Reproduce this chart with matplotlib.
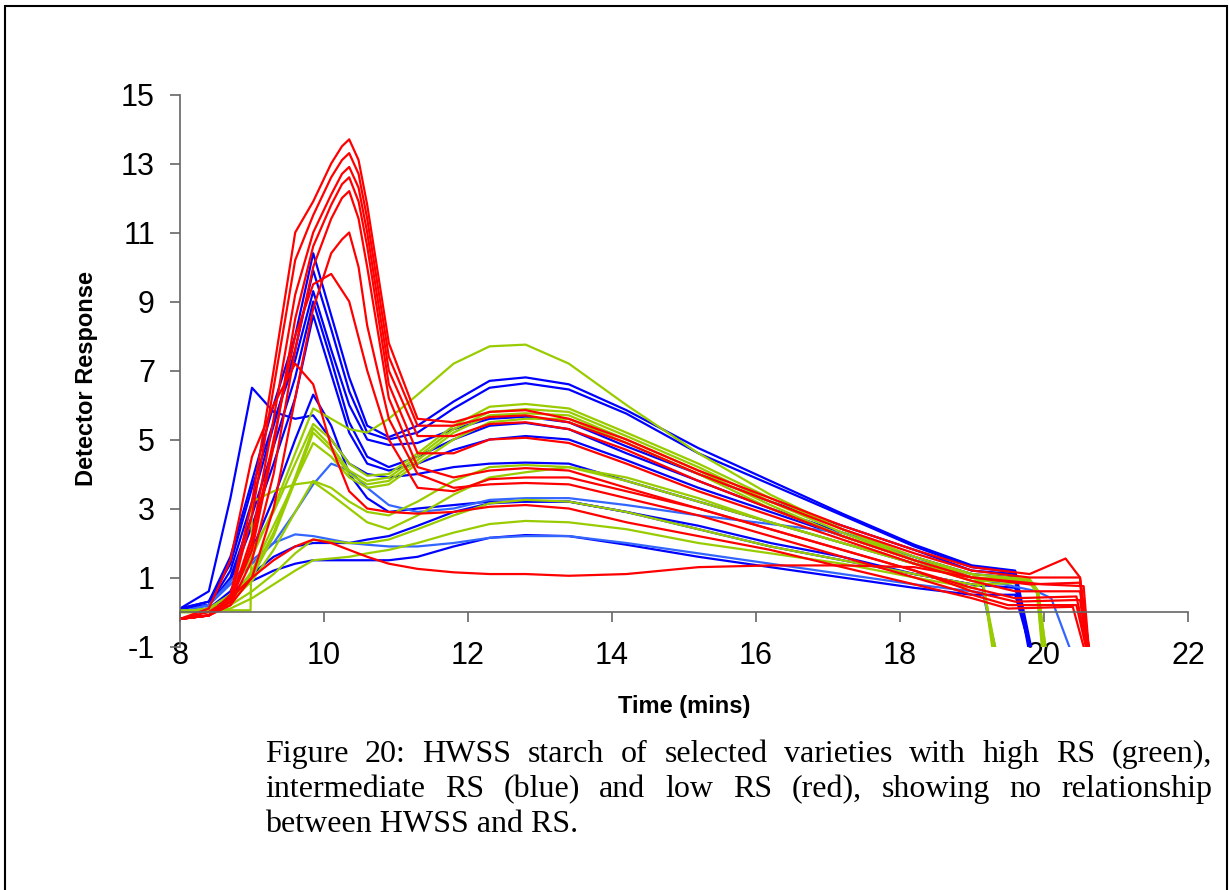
import matplotlib
matplotlib.use("Agg")
import matplotlib.pyplot as plt
from matplotlib.patches import Rectangle

plt.rcParams["axes.unicode_minus"] = False

time_grid = [8.0, 8.4, 8.7, 9.0, 9.3, 9.6, 9.85, 10.1, 10.35, 10.6, 10.9,
             11.3, 11.8, 12.3, 12.8, 13.4, 14.2, 15.2, 16.2, 17.2, 18.2, 19.0]

# low RS (red)
red_values = [
    [-0.2, -0.1, 0.5, 3.2, 7.0, 11.0, 11.9, 13.0, 13.7, 11.8, 7.8, 5.6, 5.5, 5.8, 5.85, 5.6, 5.0, 4.1, 3.3, 2.5, 1.8, 1.3],
    [-0.2, -0.1, 0.4, 2.8, 6.5, 10.2, 11.5, 12.6, 13.3, 11.4, 7.4, 5.4, 5.4, 5.65, 5.7, 5.5, 4.9, 4.0, 3.2, 2.4, 1.7, 1.2],
    [-0.2, -0.1, 0.3, 2.2, 5.6, 9.2, 11.0, 12.1, 12.9, 11.0, 7.0, 5.1, 5.1, 5.45, 5.5, 5.3, 4.7, 3.8, 3.0, 2.2, 1.5, 1.0],
    [-0.2, -0.1, 0.3, 1.8, 4.8, 8.5, 10.6, 11.8, 12.6, 10.6, 6.6, 4.6, 4.6, 5.0, 5.05, 4.9, 4.3, 3.5, 2.8, 2.1, 1.4, 0.9],
    [-0.2, -0.1, 0.2, 1.5, 4.0, 7.6, 10.0, 11.4, 12.2, 10.0, 6.2, 4.2, 3.9, 4.1, 4.17, 4.1, 3.6, 3.0, 2.4, 1.8, 1.2, 0.7],
    [-0.2, -0.1, 0.2, 1.0, 3.0, 6.2, 8.8, 10.4, 11.0, 8.3, 5.6, 4.0, 3.6, 3.7, 3.74, 3.7, 3.3, 2.8, 2.2, 1.6, 1.0, 0.5],
    [-0.2, -0.1, 0.3, 2.0, 5.0, 8.0, 9.5, 9.8, 9.0, 7.0, 5.0, 3.6, 3.5, 3.85, 3.9, 3.9, 3.5, 3.0, 2.4, 1.8, 1.2, 0.6],
    [-0.2, 0.1, 1.5, 4.5, 6.0, 7.2, 6.6, 4.8, 3.5, 3.0, 2.9, 2.85, 2.9, 3.05, 3.1, 3.0, 2.6, 2.2, 1.8, 1.3, 0.8, 0.4],
    [-0.2, 0.0, 0.4, 1.0, 1.5, 1.9, 2.1, 2.0, 1.8, 1.6, 1.4, 1.25, 1.15, 1.1, 1.1, 1.05, 1.1, 1.3, 1.35, 1.35, 1.3, 1.0],
]
red_extras = [
    [(10.25, 13.5), (10.48, 13.1), (19.8, 1.1), (20.3, 1.55), (20.5, 1.0), (20.62, -1)],
    [(10.25, 13.1), (10.48, 12.7), (19.8, 1.0), (20.5, 1.0), (20.62, -1)],
    [(10.25, 12.7), (10.48, 12.3), (19.8, 0.8), (20.5, 0.85), (20.6, -1)],
    [(10.25, 12.4), (10.48, 11.9), (19.6, 0.6), (20.5, 0.6), (20.62, -1)],
    [(10.25, 12.0), (10.48, 11.4), (19.6, 0.4), (20.45, 0.45), (20.6, -1)],
    [(10.25, 10.8), (10.48, 10.0), (19.5, 0.2), (20.45, 0.2), (20.58, -1)],
    [(19.6, 0.3), (20.5, 0.35), (20.6, -1)],
    [(19.5, 0.1), (20.4, 0.15), (20.55, -1)],
    [(20.0, 0.8), (20.55, 0.75), (20.62, -1)],
]

# intermediate RS (blue)
blue_values = [
    [0.1, 0.6, 3.3, 6.5, 5.8, 5.6, 5.7, 5.0, 4.3, 4.0, 3.9, 4.0, 4.2, 4.3, 4.33, 4.3, 3.8, 3.2, 2.6, 2.0, 1.4, 1.0],
    [0.1, 0.3, 1.6, 3.8, 6.0, 8.0, 10.4, 8.6, 6.8, 5.4, 5.07, 5.4, 6.1, 6.7, 6.8, 6.6, 5.85, 4.75, 3.8, 2.85, 1.95, 1.35],
    [0.1, 0.2, 1.2, 3.2, 5.4, 7.6, 9.9, 8.2, 6.4, 5.2, 5.0, 5.2, 5.9, 6.5, 6.63, 6.45, 5.75, 4.6, 3.7, 2.8, 1.9, 1.3],
    [0.1, 0.3, 1.4, 3.6, 5.5, 7.3, 9.3, 7.6, 6.0, 5.0, 4.84, 4.9, 5.3, 5.6, 5.66, 5.5, 4.8, 4.0, 3.2, 2.5, 1.8, 1.2],
    [0.1, 0.2, 1.0, 2.8, 4.8, 6.8, 9.0, 7.3, 5.5, 4.5, 4.2, 4.5, 5.0, 5.4, 5.48, 5.3, 4.6, 3.8, 3.0, 2.3, 1.6, 1.1],
    [0.1, 0.2, 0.9, 2.5, 4.3, 6.2, 8.6, 6.9, 5.2, 4.3, 4.1, 4.3, 4.7, 5.0, 5.1, 5.0, 4.4, 3.6, 2.9, 2.2, 1.5, 1.0],
    [0.0, 0.1, 0.6, 1.8, 3.3, 5.0, 6.3, 5.4, 4.0, 3.3, 2.9, 3.0, 3.1, 3.2, 3.2, 3.2, 2.9, 2.5, 2.0, 1.6, 1.1, 0.8],
    [0.0, 0.1, 0.4, 0.9, 1.2, 1.4, 1.5, 1.5, 1.5, 1.5, 1.5, 1.6, 1.9, 2.15, 2.23, 2.2, 1.95, 1.6, 1.3, 1.0, 0.7, 0.5],
    [0.0, 0.1, 0.5, 1.1, 1.6, 1.9, 2.0, 2.0, 2.0, 2.1, 2.2, 2.5, 2.9, 3.15, 3.2, 3.2, 2.9, 2.4, 1.9, 1.5, 1.1, 0.8],
]
blue_extras = [
    [(19.6, 0.9), (19.8, -1)],
    [(19.6, 1.2), (19.82, -1)],
    [(19.6, 1.15), (19.8, -1)],
    [(19.6, 1.1), (19.8, -1)],
    [(19.6, 1.0), (19.78, -1)],
    [(19.6, 0.9), (19.8, -1)],
    [(19.15, 0.75), (19.3, -1)],
    [(19.6, 0.5), (19.8, -1)],
    [(19.6, 0.7), (19.8, -1)],
]

# intermediate RS, lighter blue traces
lblue_values = [
    [0.0, 0.2, 0.8, 1.4, 2.0, 2.9, 3.7, 4.3, 4.1, 3.6, 3.1, 2.9, 3.0, 3.25, 3.3, 3.3, 3.1, 2.8, 2.55, 2.3, 1.6, 1.0],
    [0.0, 0.2, 0.9, 1.5, 2.0, 2.25, 2.2, 2.1, 2.0, 1.95, 1.9, 1.9, 2.0, 2.15, 2.2, 2.2, 2.0, 1.7, 1.4, 1.1, 0.8, 0.6],
]
lblue_extras = [
    [(19.9, 0.6), (20.1, 0.4), (20.35, -1)],
    [(19.15, 0.55), (19.32, -1)],
]

# high RS (green)
green_values = [
    [0.0, 0.1, 0.5, 1.6, 3.0, 4.6, 5.9, 5.6, 5.3, 5.2, 5.6, 6.3, 7.2, 7.7, 7.75, 7.2, 6.0, 4.6, 3.4, 2.4, 1.5, 1.1],
    [0.0, 0.1, 0.5, 1.8, 2.9, 4.3, 5.45, 5.0, 4.3, 3.95, 4.0, 4.6, 5.4, 5.95, 6.03, 5.9, 5.2, 4.3, 3.3, 2.4, 1.6, 1.1],
    [0.0, 0.1, 0.3, 1.1, 2.3, 3.9, 5.33, 4.8, 4.1, 3.8, 3.9, 4.5, 5.3, 5.8, 5.88, 5.8, 5.1, 4.2, 3.2, 2.3, 1.5, 1.0],
    [0.0, 0.0, 0.3, 1.0, 2.2, 3.8, 5.2, 4.7, 4.0, 3.7, 3.8, 4.4, 5.2, 5.7, 5.76, 5.7, 5.0, 4.1, 3.1, 2.2, 1.5, 1.0],
    [0.05, 0.05, 0.05, 3.2, 3.5, 3.7, 3.77, 3.4, 3.0, 2.6, 2.4, 2.8, 3.4, 3.9, 4.05, 4.2, 3.9, 3.3, 2.6, 2.0, 1.4, 1.0],
    [0.0, 0.0, 0.3, 0.9, 1.8, 2.9, 3.8, 3.6, 3.2, 2.9, 2.8, 3.2, 3.8, 4.2, 4.26, 4.2, 3.8, 3.2, 2.6, 2.0, 1.4, 0.9],
    [0.0, 0.0, 0.2, 0.6, 1.1, 1.7, 2.1, 2.05, 2.0, 2.0, 2.1, 2.4, 2.8, 3.15, 3.25, 3.2, 2.9, 2.4, 1.9, 1.5, 1.1, 0.8],
    [0.0, 0.0, 0.1, 0.4, 0.8, 1.2, 1.5, 1.55, 1.6, 1.7, 1.8, 2.0, 2.3, 2.55, 2.64, 2.6, 2.4, 2.0, 1.7, 1.4, 1.0, 0.7],
    [0.0, 0.0, 0.3, 1.2, 2.5, 3.8, 4.9, 4.5, 3.9, 3.6, 3.7, 4.3, 5.0, 5.5, 5.6, 5.6, 4.9, 4.0, 3.0, 2.2, 1.5, 1.0],
]
green_extras = [
    [(19.8, 0.95), (19.92, 0.6), (20.02, -1)],
    [(19.15, 0.9), (19.3, -1)],
    [(19.15, 0.9), (19.3, -1)],
    [(19.15, 0.9), (19.28, -1)],
    [(8.98, 0.05), (19.8, 0.95), (19.92, 0.6), (20.0, -1)],
    [(19.8, 0.9), (19.9, 0.6), (19.98, -1)],
    [(19.8, 0.85), (19.92, 0.5), (20.02, -1)],
    [(19.15, 0.8), (19.32, -1)],
    [(19.8, 0.9), (19.9, 0.6), (19.97, -1)],
]

x_ticks = [8, 10, 12, 14, 16, 18, 20, 22]
y_ticks = [-1, 1, 3, 5, 7, 9, 11, 13, 15]

caption = ["Figure 20:  HWSS starch of selected varieties with high RS (green),",
           "intermediate RS (blue) and low RS (red), showing no relationship",
           "between HWSS and RS."]

W, H = 1229, 890
fig = plt.figure(figsize=(W / 100, H / 100), dpi=100)
ax = fig.add_axes([180 / W, 1 - 646.5 / H, 1008 / W, 552 / H])


def draw(values, extras, color):
    for vals, extra in zip(values, extras):
        pts = sorted(list(zip(time_grid, vals)) + extra, key=lambda p: p[0])
        t, y = zip(*pts)
        ax.plot(t, y, color=color, lw=1.6, solid_joinstyle="round")


draw(blue_values, blue_extras, "#0000FF")
draw(lblue_values, lblue_extras, "#3366FF")
draw(green_values, green_extras, "#99CC00")
draw(red_values, red_extras, "#FF0000")

ax.set_xlim(8, 22)
ax.set_ylim(-1, 15)
ax.set_xticks(x_ticks)
ax.set_yticks(y_ticks)
for s in ["top", "right"]:
    ax.spines[s].set_visible(False)
ax.spines["bottom"].set_position(("data", 0))
for s in ["left", "bottom"]:
    ax.spines[s].set_color("#666666")
    ax.spines[s].set_linewidth(1.2)

ax.tick_params(axis="both", colors="#666666", width=1.2, length=7,
               direction="out", labelcolor="black", labelsize=22)
ax.tick_params(axis="x", pad=14)
ax.tick_params(axis="y", pad=11)
for lab in ax.get_xticklabels() + ax.get_yticklabels():
    lab.set_fontfamily("Liberation Sans")

fig.text(86 / W, 1 - 378 / H, "Detector Response", rotation=90, ha="center",
         va="center", fontsize=17, fontweight="bold", family="Liberation Sans")
fig.text(684 / W, 1 - 706 / H, "Time (mins)", ha="center", va="center",
         fontsize=17, fontweight="bold", family="Liberation Sans")

# figure frame (bottom edge runs off the page)
fig.add_artist(Rectangle((5 / W, -0.05), 1222 / W, 1.05 - 6 / H, fill=False,
                         edgecolor="black", lw=1.5, transform=fig.transFigure))

# justified caption
fig.canvas.draw()
renderer = fig.canvas.get_renderer()
x0, x1 = 265, 1212
baselines = [762, 797, 832]
for i, line in enumerate(caption):
    y = 1 - baselines[i] / H
    if i == len(caption) - 1:
        fig.text(x0 / W, y, line, fontsize=23, family="Liberation Serif", va="baseline")
        continue
    words = line.split()
    texts = [fig.text(0, y, w, fontsize=23, family="Liberation Serif", va="baseline")
             for w in words]
    widths = [t.get_window_extent(renderer).width for t in texts]
    gap = (x1 - x0 - sum(widths)) / (len(words) - 1)
    x = x0
    for t, w in zip(texts, widths):
        t.set_x(x / W)
        x += w + gap

fig.savefig("out.png", dpi=100)
